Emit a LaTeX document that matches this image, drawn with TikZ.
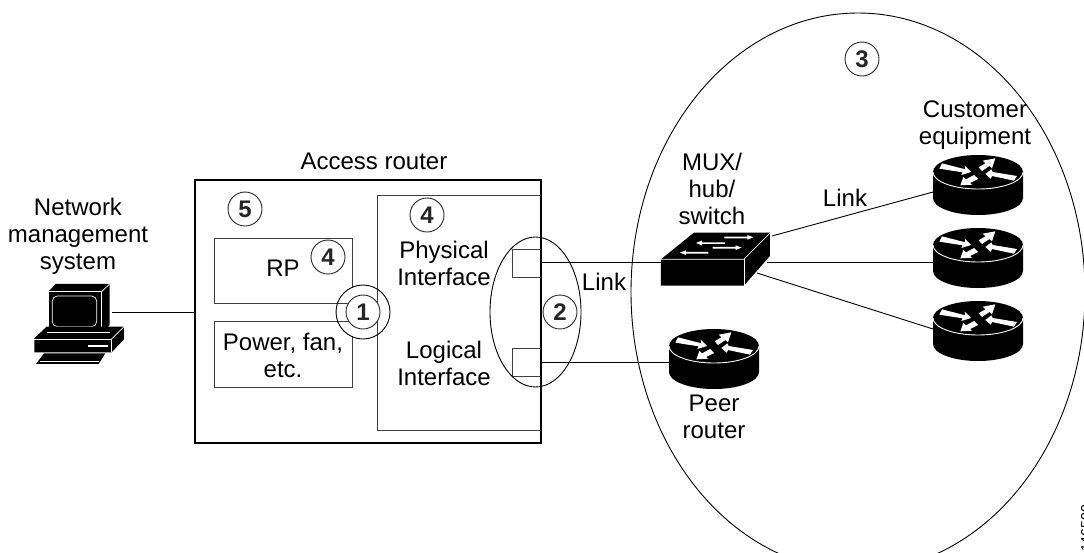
\documentclass[tikz,border=0pt]{standalone}
\usepackage{fontspec}
\usetikzlibrary{shapes.geometric}
\setmainfont{Liberation Sans}
\begin{document}
\begin{tikzpicture}[x=1pt,y=-1pt,
  lbl/.style={font=\fontsize{24}{27}\selectfont,align=center,inner sep=0pt},
  num/.style={circle,draw=black!85,fill=white,line width=.9pt,minimum size=34pt,inner sep=0pt,font=\fontsize{24}{24}\selectfont\bfseries,text=black!85},
  ln/.style={line width=.9pt,black},
  thin box/.style={line width=.9pt,draw=black!75},
  routeranchor/.style={minimum width=90pt,minimum height=60pt,inner sep=0pt},
  router/.pic={
    \fill[black] (-45,0) -- (-45,26) arc[start angle=180,end angle=360,x radius=45pt,y radius=17pt] -- (45,0) arc[start angle=0,end angle=180,x radius=45pt,y radius=17pt] -- cycle;
    \draw[white,line width=.9pt] (-45,0) arc[start angle=180,end angle=360,x radius=45pt,y radius=17pt];
    \begin{scope}[x=.3333pt,y=-.3333pt]
    \fill[white] (-116,-10) -- (-108,-26) -- (-38,-8) -- (-40,-19) -- (-21,0) -- (-50,9) -- (-46,1) -- cycle;
    \fill[white] (2,-14) -- (22,-26) -- (14,-34) -- (52,-41) -- (42,-11) -- (34,-18) -- (12,-3) -- cycle;
    \fill[white] (22,6) -- (40,-8) -- (44,0) -- (117,12) -- (108,26) -- (42,12) -- (38,20) -- cycle;
    \fill[white] (-53,40) -- (-44,15) -- (-36,22) -- (-12,9) -- (0,21) -- (-24,33) -- (-17,38) -- cycle;
    \end{scope}
  }]
\useasboundingbox (0,0) rectangle (1084,552);
\begin{scope}
\clip (0,0) rectangle (1084,552);
\node[draw,ellipse,line width=.9pt,minimum width=454pt,minimum height=558pt,inner sep=0pt] (cloud) at (858,292) {};
\end{scope}

% access router
\node[draw,line width=2.6pt,minimum width=346pt,minimum height=263pt,inner sep=0pt] (access) at (368,311.5) {};
\draw[thin box] (541,195) -- (377,195) -- (377,430) -- (541,430);
\draw[thin box] (541,249) -- (512,249) -- (512,277) -- (541,277);
\draw[thin box] (541,348) -- (512,348) -- (512,376) -- (541,376);
\draw[thin box] (352,288) -- (352,238) -- (214,238) -- (214,303) -- (349,303);
\draw[thin box] (352,336) -- (352,387) -- (214,387) -- (214,321) -- (349,321);
\draw[ln] (363,312) circle[radius=27];
\node[num] (n1) at (363,312) {1};
\node[draw,ellipse,line width=.9pt,minimum width=91pt,minimum height=150pt,inner sep=0pt] (iface) at (535.5,312) {};
\node[num] (n2) at (560,312) {2};
\node[num] (n3) at (862,59) {3};
\node[num] (n4a) at (427,215) {4};
\node[num] (n4b) at (328,257) {4};
\node[num] (n5) at (245,209) {5};

\node[lbl] (tacc) at (374,161) {Access router};
\node[lbl] (tnms) at (78,236) {Network\\management\\system};
\node[lbl] (trp) at (283,268) {RP};
\node[lbl] (tpow) at (283,355.5) {Power, fan,\\etc.};
\node[lbl] (tphy) at (444,263) {Physical\\Interface};
\node[lbl] (tlog) at (444,363) {Logical\\Interface};
\node[lbl] (tlink1) at (604,282) {Link};
\node[lbl] (tlink2) at (845,198) {Link};
\node[lbl] (tmux) at (712,189) {MUX/\\hub/\\switch};
\node[lbl] (tcust) at (975,125.5) {Customer\\equipment};
\node[lbl] (tpeer) at (714,416.5) {Peer\\router};
\node[rotate=90,font=\fontsize{14}{14}\selectfont,anchor=north west,inner sep=0pt] (tnum) at (1081,552) {146500};

% computer
\node[minimum width=90pt,minimum height=80pt,inner sep=0pt] (pc) at (79,322) {};
\begin{scope}[x=.3333pt,y=-.3333pt,shift={(0,510)}]
\fill[black] (145,365) -- (167,342) -- (329,342) -- (329,465) -- (305,488) -- (145,488) -- cycle;
\draw[white,line width=.7pt] (145,365) -- (305,365) -- (305,488) -- (145,488) -- cycle;
\draw[white,line width=.7pt] (305,365) -- (329,342);
\draw[white,line width=.7pt,rounded corners=5pt] (157,378) rectangle (290,470);
\fill[black] (103,505) -- (140,470) -- (372,470) -- (372,508) -- (335,547) -- (103,547) -- cycle;
\draw[white,line width=.7pt] (103,507) -- (335,507) -- (335,547);
\draw[white,line width=.7pt] (335,507) -- (372,470);
\draw[white,line width=.7pt] (140,488) -- (330,488);
\fill[white] (265,525) rectangle (323,530);
\fill[black] (132,550) -- (316,550) -- (296,582) -- (108,582) -- cycle;
\draw[white,line width=.7pt] (120,574) -- (298,574);
\end{scope}

% switch
\node[minimum width=110pt,minimum height=54pt,inner sep=0pt] (sw) at (716,259) {};
\begin{scope}[x=.3333pt,y=-.3333pt,shift={(1920,390)}]
\fill[black] (63,388) -- (162,308) -- (390,308) -- (390,378) -- (312,467) -- (63,467) -- cycle;
\draw[white,line width=.7pt] (63,388) -- (312,388) -- (390,310);
\draw[white,line width=.7pt] (312,388) -- (312,467);
\fill[white] (253,320) -- (322,320) -- (322,315) -- (340,322) -- (322,329) -- (322,325) -- (253,325) -- cycle;
\fill[white] (255,337) -- (186,337) -- (186,332) -- (168,339) -- (186,346) -- (186,342) -- (255,342) -- cycle;
\fill[white] (218,351) -- (287,351) -- (287,346) -- (305,353) -- (287,360) -- (287,356) -- (218,356) -- cycle;
\fill[white] (205,366) -- (138,366) -- (138,361) -- (120,368) -- (138,375) -- (138,371) -- (205,371) -- cycle;
\end{scope}

% routers
\node[routeranchor] (r1) at (978,185) {};
\node[routeranchor] (r2) at (978,258) {};
\node[routeranchor] (r3) at (978,331) {};
\node[routeranchor] (peer) at (714,359) {};
\pic at (978,172) {router};
\pic at (978,245) {router};
\pic at (978,318) {router};
\pic at (714,346) {router};

% ports
\coordinate (nmsport) at (112,312);
\coordinate (p1) at (541,262);
\coordinate (p2) at (541,362);
\coordinate (swl) at (661,262);
\coordinate (swa) at (772,236);
\coordinate (swb) at (767,262);
\coordinate (swc) at (757,273);
\coordinate (r1p) at (933,192);
\coordinate (r2p) at (933,262);
\coordinate (r3p) at (933,329);
\coordinate (peerp) at (669,362);
\coordinate (accw) at (195,312);
\draw[ln] (nmsport) -- (accw);
\draw[ln] (p1) -- (swl);
\draw[ln] (p2) -- (peerp);
\draw[ln] (swa) -- (r1p);
\draw[ln] (swb) -- (r2p);
\draw[ln] (swc) -- (r3p);
\end{tikzpicture}
\end{document}
